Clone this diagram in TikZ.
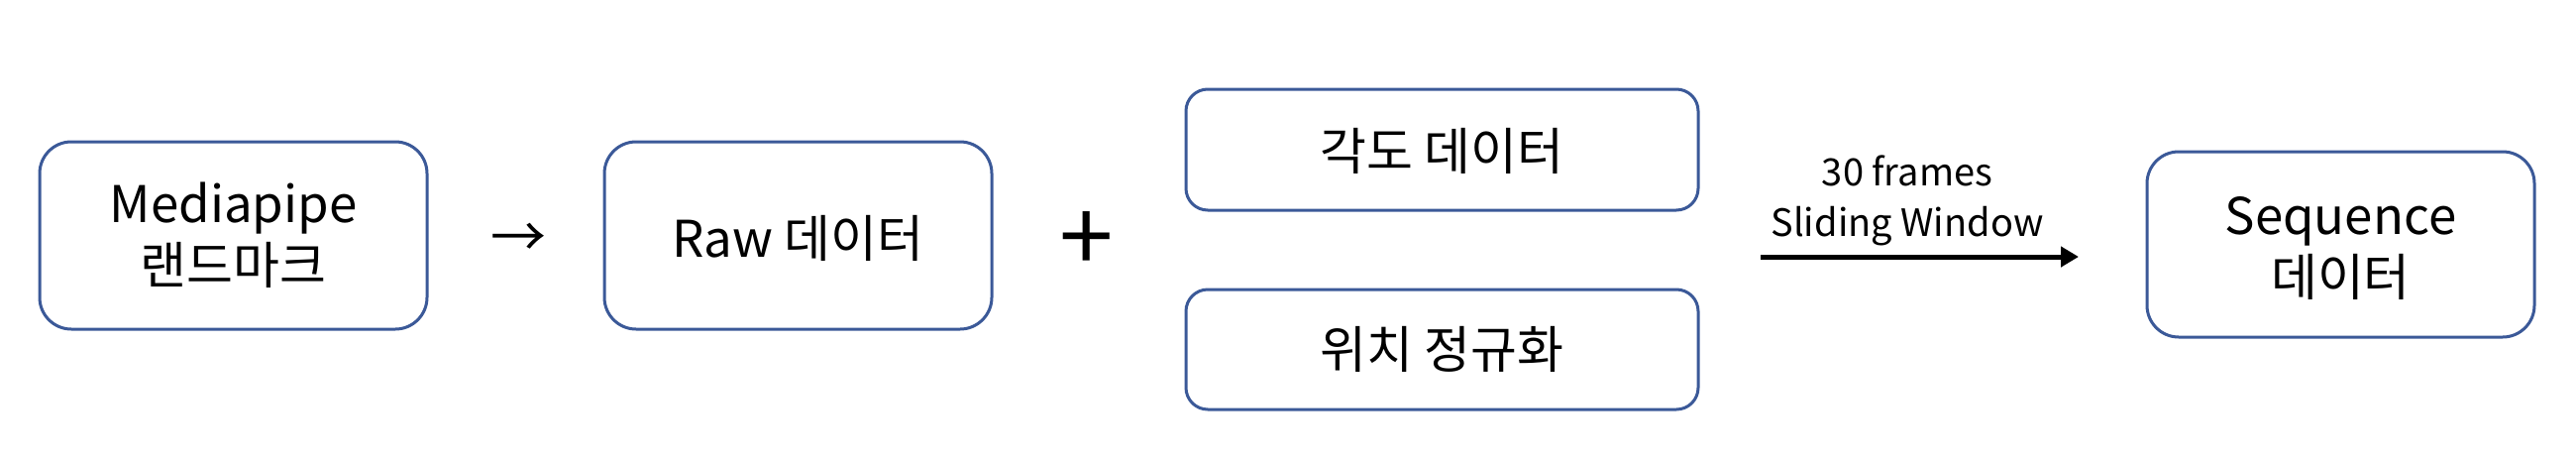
\documentclass[tikz,border=0pt]{standalone}
\usepackage{fontspec}
\setmainfont{Noto Sans CJK KR}
\usetikzlibrary{arrows.meta}
\definecolor{boxblue}{HTML}{3B5998}
\tikzset{
  x=1pt,y=-1pt,
  rbox/.style={draw=boxblue, line width=3pt, rounded corners=32pt, fill=white},
  lbl/.style={font=\fontsize{51}{62}\selectfont, align=center, inner sep=0pt},
  small/.style={font=\fontsize{38}{51}\selectfont, align=center, inner sep=0pt},
}
\begin{document}
\begin{tikzpicture}
\useasboundingbox (0,0) rectangle (2600,464);
% boxes
\node[rbox, minimum width=391pt, minimum height=189pt] (mp) at (235.5,237.5) {};
\node[rbox, minimum width=391pt, minimum height=189pt] (raw) at (805.5,237.5) {};
\node[rbox, minimum width=517pt, minimum height=122pt, rounded corners=22pt] (ang) at (1455.5,151) {};
\node[rbox, minimum width=517pt, minimum height=121pt, rounded corners=22pt] (pos) at (1455.5,352.5) {};
\node[rbox, minimum width=391pt, minimum height=187pt] (seq) at (2362.5,246.5) {};
% texts
\node[lbl] (t1) at (235.5,237) {Mediapipe\\랜드마크};
\node[lbl] (t2) at (805.5,240) {Raw 데이터};
\node[lbl] (t3) at (1455.5,152) {각도 데이터};
\node[lbl] (t4) at (1455.5,352) {위치 정규화};
\node[lbl] (t5) at (2362.5,250) {Sequence\\데이터};
\node[font=\fontsize{56}{60}\selectfont, inner sep=0pt] (ar) at (523,242) {→};
\node[font=\fontsize{98}{110}\selectfont, inner sep=0pt] (plus) at (1097,244) {+};
\node[small] (lab) at (1925,202) {30 frames\\Sliding Window};
% arrow
\coordinate (a1) at (1777,259);
\coordinate (a2) at (2098,259);
\draw[line width=5pt, -{Triangle[length=18pt,width=20pt]}] (a1) -- (a2);
\end{tikzpicture}
\end{document}
